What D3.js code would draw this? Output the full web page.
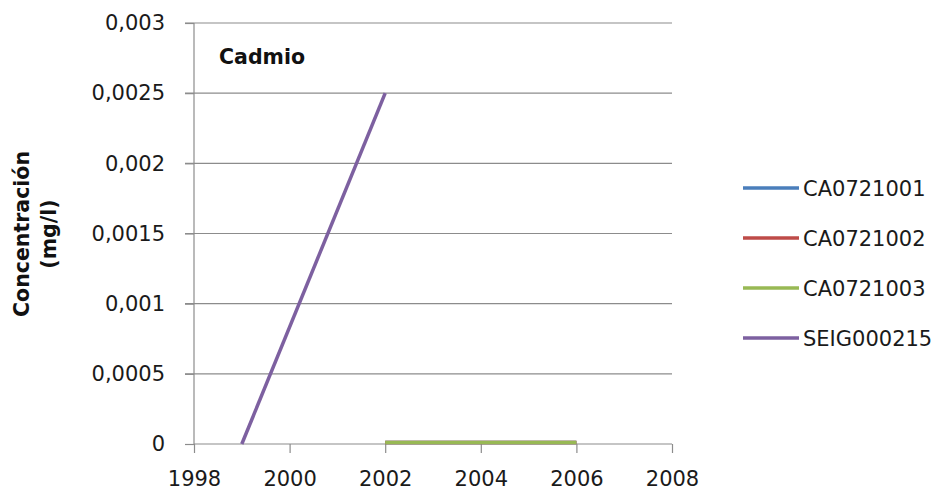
<!DOCTYPE html>
<html><head><meta charset="utf-8">
<script src="https://cdn.jsdelivr.net/npm/d3@7"></script>
<style>body{margin:0;background:#fff}svg{display:block}</style>
</head><body><svg id="c" width="939" height="498"></svg>
<script>
const seriesNames = ["CA0721001","CA0721002","CA0721003","SEIG000215"];
const seriesColors = ["#4a7ebb","#be4b48","#98b954","#7d60a0"];
const years1 = [2002, 2006];
const vals1 = [0, 0];
const years2 = [2002, 2006];
const vals2 = [0, 0];
const years3 = [2002, 2006];
const vals3 = [0, 0];
const years4 = [1999, 2002];
const vals4 = [0, 0.0025];
const xTicks = [1998,2000,2002,2004,2006,2008];
const yTicks = [0,0.0005,0.001,0.0015,0.002,0.0025,0.003];
const yTickLabels = ["0","0,0005","0,001","0,0015","0,002","0,0025","0,003"];

const svg = d3.select("#c");
const font = "DejaVu Sans";
const x = d3.scaleLinear().domain([1998,2008]).range([194,672]);
const y = d3.scaleLinear().domain([0,0.003]).range([444,23]);

// gridlines
svg.append("g").selectAll("line").data(yTicks.filter(d=>d>0)).join("line")
  .attr("x1",185).attr("x2",672).attr("y1",d=>y(d)).attr("y2",d=>y(d))
  .attr("stroke","#8c8c8c").attr("stroke-width",1.2);

// y axis
const yAxis = d3.axisLeft(y).tickValues(yTicks).tickFormat((d,i)=>yTickLabels[i]).tickSize(9).tickPadding(20);
const gy = svg.append("g").attr("transform","translate(194,0)").call(yAxis);
gy.select(".domain").attr("stroke","#8c8c8c").attr("stroke-width",1.2).attr("d","M0,23V444");
gy.selectAll(".tick line").attr("stroke","#8c8c8c").attr("stroke-width",1.2);
gy.selectAll("text").attr("font-family",font).attr("font-size",21).attr("fill","#1a1a1a");

// x axis
const xAxis = d3.axisBottom(x).tickValues(xTicks).tickFormat(d3.format("d")).tickSize(9).tickPadding(18);
const gx = svg.append("g").attr("transform","translate(0,444)").call(xAxis);
gx.select(".domain").attr("stroke","#8c8c8c").attr("stroke-width",1.2).attr("d","M194,0H672");
gx.selectAll(".tick line").attr("stroke","#8c8c8c").attr("stroke-width",1.2);
gx.selectAll("text").attr("font-family",font).attr("font-size",21).attr("fill","#1a1a1a");

// series
const data = [
  years1.map((d,i)=>[d,vals1[i]]),
  years2.map((d,i)=>[d,vals2[i]]),
  years3.map((d,i)=>[d,vals3[i]]),
  years4.map((d,i)=>[d,vals4[i]])
];
const line = d3.line().x(d=>x(d[0])).y(d=>y(d[1]));
svg.append("g").selectAll("path").data(data).join("path")
  .attr("d",d=>line(d)).attr("fill","none")
  .attr("stroke",(d,i)=>seriesColors[i]).attr("stroke-width",3.5)
  .attr("stroke-linecap","butt").attr("transform",(d,i)=>i<3?"translate(0,-1.5)":null);

// title inside
svg.append("text").attr("x",219).attr("y",64).text("Cadmio")
  .attr("font-family",font).attr("font-weight","bold").attr("font-size",20.5).attr("fill","#111");

// y title
const yt = svg.append("text").attr("transform","translate(0,234) rotate(-90)")
  .attr("text-anchor","middle").attr("font-family",font).attr("font-weight","bold")
  .attr("font-size",20.5).attr("fill","#111");
yt.append("tspan").attr("x",0).attr("y",29).text("Concentración");
yt.append("tspan").attr("x",0).attr("y",56).text("(mg/l)");

// legend
const lg = svg.append("g").selectAll("g").data(seriesNames).join("g")
  .attr("transform",(d,i)=>`translate(743,${188+i*50})`);
lg.append("line").attr("x1",0).attr("x2",56).attr("y1",0).attr("y2",0)
  .attr("stroke",(d,i)=>seriesColors[i]).attr("stroke-width",3.5);
lg.append("text").attr("x",60).attr("y",0).attr("dy","0.36em").text(d=>d)
  .attr("font-family",font).attr("font-size",21).attr("fill","#1a1a1a");
</script></body></html>
